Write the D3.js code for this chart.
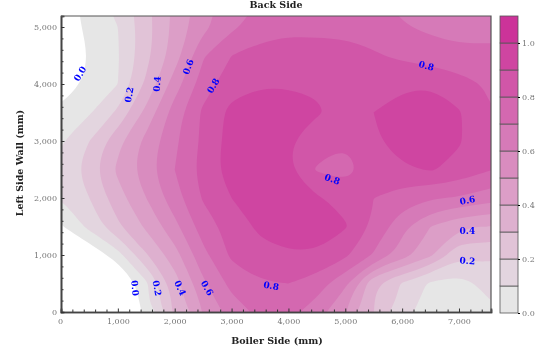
<!DOCTYPE html>
<html>
<head>
<meta charset="utf-8">
<script src="https://cdn.jsdelivr.net/npm/d3@7"></script>
<style>
  html, body { margin: 0; padding: 0; background: #fff; }
  svg { display: block; filter: blur(0.35px); }
  text { font-family: "DejaVu Serif", serif; }
  .tick text { fill: #777; font-size: 8px; font-family: "DejaVu Serif", serif; }
</style>
</head>
<body>
<svg id="chart" width="555" height="361"></svg>
<script>
// Values, one row per wall height (mm), one column per xGrid step
const xGrid = [0, 500, 1000, 1500, 2000, 2500, 3000, 3500, 4000, 4500, 5000, 5500, 6000, 6500, 7000, 7500, 8000];
const yGrid = [0, 500, 1000, 1500, 2000, 2500, 3000, 3500, 4000, 4500, 5000, 5500];
const row0 = [-.8, -.6, -.3, .07, .32, .5, .65, .72, .73, .65, .5, .3, .15, .04, .01, .07, .12];
const row500 = [-.6, -.4, -.15, .08, .35, .58, .73, .79, .8, .75, .62, .31, .19, .08, .06, .13, .18];
const row1000 = [-.35, -.09, .06, .29, .46, .67, .82, .87, .89, .89, .82, .69, .55, .42, .22, .23, .2];
const row1500 = [-.01, .13, .28, .42, .57, .75, .84, .92, .95, .95, .91, .78, .63, .5, .41, .4, .36];
const row2000 = [.1, .2, .36, .5, .66, .81, .9, .95, .94, .91, .87, .8, .75, .71, .69, .65, .6];
const row2500 = [.12, .26, .42, .56, .7, .84, .95, .97, .91, .79, .76, .85, .88, .91, .87, .81, .78];
const row3000 = [.09, .2, .37, .53, .68, .82, .94, .97, .91, .84, .81, .88, .96, .99, .91, .83, .78];
const row3500 = [.04, .09, .22, .43, .65, .82, .93, .96, .95, .91, .87, .9, .95, .97, .91, .81, .78];
const row4000 = [-.08, .03, .1, .32, .55, .75, .86, .89, .89, .89, .87, .86, .88, .89, .84, .79, .75];
const row4500 = [-.22, .01, .09, .27, .45, .69, .8, .84, .86, .85, .84, .81, .78, .75, .73, .73, .73];
const row5000 = [-.15, .06, .1, .26, .43, .57, .68, .75, .77, .77, .77, .76, .71, .68, .66, .66, .66];
const row5500 = [-.08, .06, .13, .28, .42, .55, .66, .7, .72, .72, .72, .71, .67, .62, .6, .6, .6];

// Colour bands, 0.1 wide
const levels = [0, .1, .2, .3, .4, .5, .6, .7, .8, .9, 1];
const bandColors = ["#e6e6e6", "#e3d5df", "#e1c3d7", "#deb0cf", "#dc9ec7", "#d98cbf",
                    "#d67ab8", "#d468b0", "#d156a8", "#cf45a1", "#cc3399"];

// Contour labels: text, position in mm, rotation
const labelText = ["0.0", "0.2", "0.4", "0.6", "0.8", "0.8", "0.8", "0.6", "0.4", "0.2", "0.0", "0.2", "0.4", "0.6", "0.8"];
const labelX = [335, 1197, 1690, 2236, 2676, 6426, 4771, 7148, 7148, 7148, 1303, 1690, 2095, 2570, 3697];
const labelY = [4180, 3810, 4000, 4300, 3970, 4320, 2330, 1960, 1430, 900, 420, 420, 420, 420, 460];
const labelAngle = [-60, -80, -85, -70, -60, 15, 20, -10, 0, 5, 85, 80, 65, 60, 10];

const xTicks = [0, 1000, 2000, 3000, 4000, 5000, 6000, 7000];
const yTicks = [0, 1000, 2000, 3000, 4000, 5000];
const barTicks = [0, .2, .4, .6, .8, 1];

const svg = d3.select("#chart");
const margin = { left: 61, right: 491, top: 16, bottom: 312 };

const x = d3.scaleLinear().domain([0, 7563]).range([margin.left, margin.right]);
const y = d3.scaleLinear().domain([0, 5193]).range([margin.bottom, margin.top]);

svg.append("clipPath").attr("id", "plot-clip")
  .append("rect")
  .attr("x", margin.left).attr("y", margin.top)
  .attr("width", margin.right - margin.left).attr("height", margin.bottom - margin.top);

// Filled contours
const grid = [row0, row500, row1000, row1500, row2000, row2500, row3000, row3500, row4000, row4500, row5000, row5500].flat();
const contours = d3.contours().size([xGrid.length, yGrid.length]).thresholds(levels)(grid);

const gridX = d3.scaleLinear().domain([0.5, xGrid.length - 0.5]).range([xGrid[0], xGrid[xGrid.length - 1]]);
const gridY = d3.scaleLinear().domain([0.5, yGrid.length - 0.5]).range([yGrid[0], yGrid[yGrid.length - 1]]);
const ringLine = d3.line()
  .x(p => x(gridX(p[0])))
  .y(p => y(gridY(p[1])))
  .curve(d3.curveBasisClosed);

function contourPath(c) {
  let d = "";
  c.coordinates.forEach(poly => {
    poly.forEach(ring => {
      d += ringLine(ring.slice(0, -1));
    });
  });
  return d;
}

svg.append("g").attr("clip-path", "url(#plot-clip)")
  .selectAll("path")
  .data(contours)
  .join("path")
  .attr("d", contourPath)
  .attr("fill", (d, i) => bandColors[i]);

// Inward axes: minor ticks every 200 mm, major every 1000 mm
function minorTicks(max) {
  return d3.range(0, max, 200).filter(v => v % 1000 !== 0);
}

const xAxis = svg.append("g").attr("transform", `translate(0,${margin.bottom})`);
xAxis.call(d3.axisBottom(x).tickValues(minorTicks(7563)).tickSize(-2.5).tickFormat(""));
const xMajor = svg.append("g").attr("transform", `translate(0,${margin.bottom})`);
xMajor.call(d3.axisBottom(x).tickValues(xTicks).tickSize(-3.5).tickPadding(6).tickFormat(d3.format(",")));

const yAxis = svg.append("g").attr("transform", `translate(${margin.left},0)`);
yAxis.call(d3.axisLeft(y).tickValues(minorTicks(5193)).tickSize(-2.5).tickFormat(""));
const yMajor = svg.append("g").attr("transform", `translate(${margin.left},0)`);
yMajor.call(d3.axisLeft(y).tickValues(yTicks).tickSize(-3.5).tickPadding(4).tickFormat(d3.format(",")));

svg.selectAll(".domain").attr("stroke", "#444").attr("stroke-width", 1.6);
svg.selectAll(".tick line").attr("stroke", "#333");
xMajor.select(".tick text").attr("dx", -1);

// Top and right border
svg.append("path")
  .attr("d", d3.line()([[margin.left, margin.top], [margin.right, margin.top], [margin.right, margin.bottom]]))
  .attr("fill", "none").attr("stroke", "#555").attr("stroke-width", 1.2);

// Contour labels
svg.append("g").selectAll("text")
  .data(labelText)
  .join("text")
  .attr("transform", (d, i) => `translate(${x(labelX[i])},${y(labelY[i])}) rotate(${labelAngle[i]})`)
  .attr("text-anchor", "middle")
  .attr("dy", "0.35em")
  .attr("font-size", 9)
  .attr("font-weight", "bold")
  .attr("fill", "#0000ff")
  .text(d => d);

// Colour bar
const barX = 500;
const barW = 18;
const barScale = d3.scaleLinear().domain([0, 1.1]).range([313, 16]);
svg.append("g").selectAll("rect")
  .data(bandColors)
  .join("rect")
  .attr("x", barX)
  .attr("y", (d, i) => barScale(levels[i] + .1))
  .attr("width", barW)
  .attr("height", (d, i) => barScale(levels[i]) - barScale(levels[i] + .1))
  .attr("fill", d => d)
  .attr("stroke", "#555")
  .attr("stroke-width", 0.8);

const barAxis = svg.append("g").attr("transform", `translate(${barX + barW},0)`);
barAxis.call(d3.axisRight(barScale).tickValues(barTicks).tickSize(2).tickPadding(2).tickFormat(d3.format(".1f")));
barAxis.select(".domain").remove();

// Titles
svg.append("text").attr("x", 276).attr("y", 8).attr("text-anchor", "middle")
  .attr("font-size", 9.5).attr("font-weight", "bold").attr("fill", "#222").text("Back Side");
svg.append("text").attr("x", 277).attr("y", 344).attr("text-anchor", "middle")
  .attr("font-size", 9.5).attr("font-weight", "bold").attr("fill", "#222").text("Boiler Side (mm)");
svg.append("text").attr("transform", "translate(23,163) rotate(-90)").attr("text-anchor", "middle")
  .attr("font-size", 9.5).attr("font-weight", "bold").attr("fill", "#222").text("Left Side Wall (mm)");
</script>
</body>
</html>
